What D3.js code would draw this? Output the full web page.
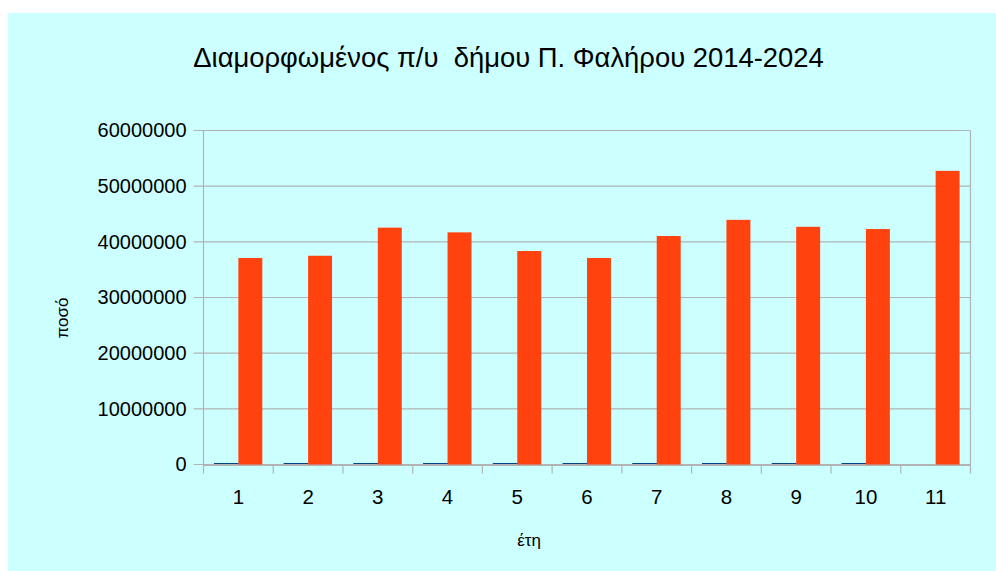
<!DOCTYPE html>
<html>
<head>
<meta charset="utf-8">
<script src="https://cdn.jsdelivr.net/npm/d3@7"></script>
<style>
  body { margin: 0; background: #fff; }
  text { font-family: "Liberation Sans", Arial, sans-serif; fill: #000; }
</style>
</head>
<body>
<svg width="996" height="571"></svg>
<script>
var categories = ['1', '2', '3', '4', '5', '6', '7', '8', '9', '10', '11'];
// first series: the year (tiny next to the budget), missing for the last one
var years = [2014, 2015, 2016, 2017, 2018, 2019, 2020, 2021, 2022, 2023, null];
var amounts = [37100000, 37500000, 42550000, 41700000, 38350000, 37100000,
               41050000, 43950000, 42700000, 42300000, 52750000];
var yTicks = [0, 10000000, 20000000, 30000000, 40000000, 50000000, 60000000];

var svg = d3.select('svg');

svg.append('rect')
    .attr('x', 8).attr('y', 13)
    .attr('width', 988).attr('height', 558)
    .attr('fill', '#ccffff');

var plotLeft = 203.5, plotRight = 970.5, plotTop = 130.5, plotBottom = 464.5;

var x = d3.scaleBand()
    .domain(categories)
    .range([plotLeft, plotRight]);

var inner = d3.scaleBand()
    .domain(['years', 'amount'])
    .range([10.9, x.bandwidth() - 10.9]);

var y = d3.scaleLinear()
    .domain([0, 60000000])
    .range([plotBottom, plotTop]);

// grid
svg.append('g')
    .selectAll('line')
    .data(yTicks)
    .enter().append('line')
    .attr('x1', plotLeft - 10)
    .attr('x2', plotRight)
    .attr('y1', (d) => { return y(d) })
    .attr('y2', (d) => { return y(d) })
    .attr('stroke', '#b3b3b3')
    .attr('stroke-width', 1.2);

var yAxis = d3.axisLeft(y)
    .tickValues(yTicks)
    .tickSize(0)
    .tickPadding(17)
    .tickFormat(d3.format('d'));

var gy = svg.append('g')
    .attr('transform', 'translate(' + plotLeft + ',0)')
    .call(yAxis);
gy.select('.domain').remove();
gy.selectAll('text')
    .attr('font-size', 20)
    .attr('font-family', '"Liberation Sans", Arial, sans-serif')
    .attr('fill', '#000');

// axis lines
svg.append('line')
    .attr('x1', plotLeft).attr('x2', plotLeft)
    .attr('y1', plotTop).attr('y2', plotBottom)
    .attr('stroke', '#b3b3b3').attr('stroke-width', 1.2);
svg.append('line')
    .attr('x1', plotRight).attr('x2', plotRight)
    .attr('y1', plotTop).attr('y2', plotBottom)
    .attr('stroke', '#b3b3b3').attr('stroke-width', 1.2);

var xAxis = d3.axisBottom(x).tickSize(0).tickPadding(24);
var gx = svg.append('g')
    .attr('transform', 'translate(0,' + (plotBottom + 0.5) + ')')
    .call(xAxis);
gx.select('.domain').attr('stroke', '#b3b3b3').attr('stroke-width', 1.2);
gx.selectAll('text')
    .attr('font-size', 20.5)
    .attr('font-family', '"Liberation Sans", Arial, sans-serif')
    .attr('fill', '#000');

// category separator ticks
svg.append('g')
    .selectAll('line')
    .data(categories.concat(['end']))
    .enter().append('line')
    .attr('x1', (d) => { return d === 'end' ? plotRight : x(d) })
    .attr('x2', (d) => { return d === 'end' ? plotRight : x(d) })
    .attr('y1', plotBottom)
    .attr('y2', plotBottom + 9)
    .attr('stroke', '#b3b3b3')
    .attr('stroke-width', 1.2);

// bars
svg.append('g')
    .selectAll('rect')
    .data(years.map((d, i) => { return { c: categories[i], v: d } }).filter((d) => { return d.v != null }))
    .enter().append('rect')
    .attr('x', (d) => { return x(d.c) + inner('years') })
    .attr('y', (d) => { return y(d.v) - 1 })
    .attr('width', inner.bandwidth())
    .attr('height', (d) => { return plotBottom - y(d.v) })
    .attr('fill', '#004586')
    .attr('stroke', '#004586')
    .attr('stroke-width', 1);

svg.append('g')
    .selectAll('rect')
    .data(amounts)
    .enter().append('rect')
    .attr('x', (d, i) => { return x(categories[i]) + inner('amount') })
    .attr('y', (d) => { return y(d) })
    .attr('width', inner.bandwidth())
    .attr('height', (d) => { return plotBottom - y(d) })
    .attr('fill', '#ff420e');

// titles
svg.append('text')
    .attr('x', 508.5).attr('y', 67)
    .attr('text-anchor', 'middle')
    .attr('font-size', 27.4)
    .style('white-space', 'pre')
    .text('Διαμορφωμένος π/υ  δήμου Π. Φαλήρου 2014-2024');

svg.append('text')
    .attr('x', 529).attr('y', 546)
    .attr('text-anchor', 'middle')
    .attr('font-size', 17)
    .text('έτη');

svg.append('text')
    .attr('transform', 'translate(68,318) rotate(-90)')
    .attr('text-anchor', 'middle')
    .attr('font-size', 17)
    .text('ποσό');
</script>
</body>
</html>
